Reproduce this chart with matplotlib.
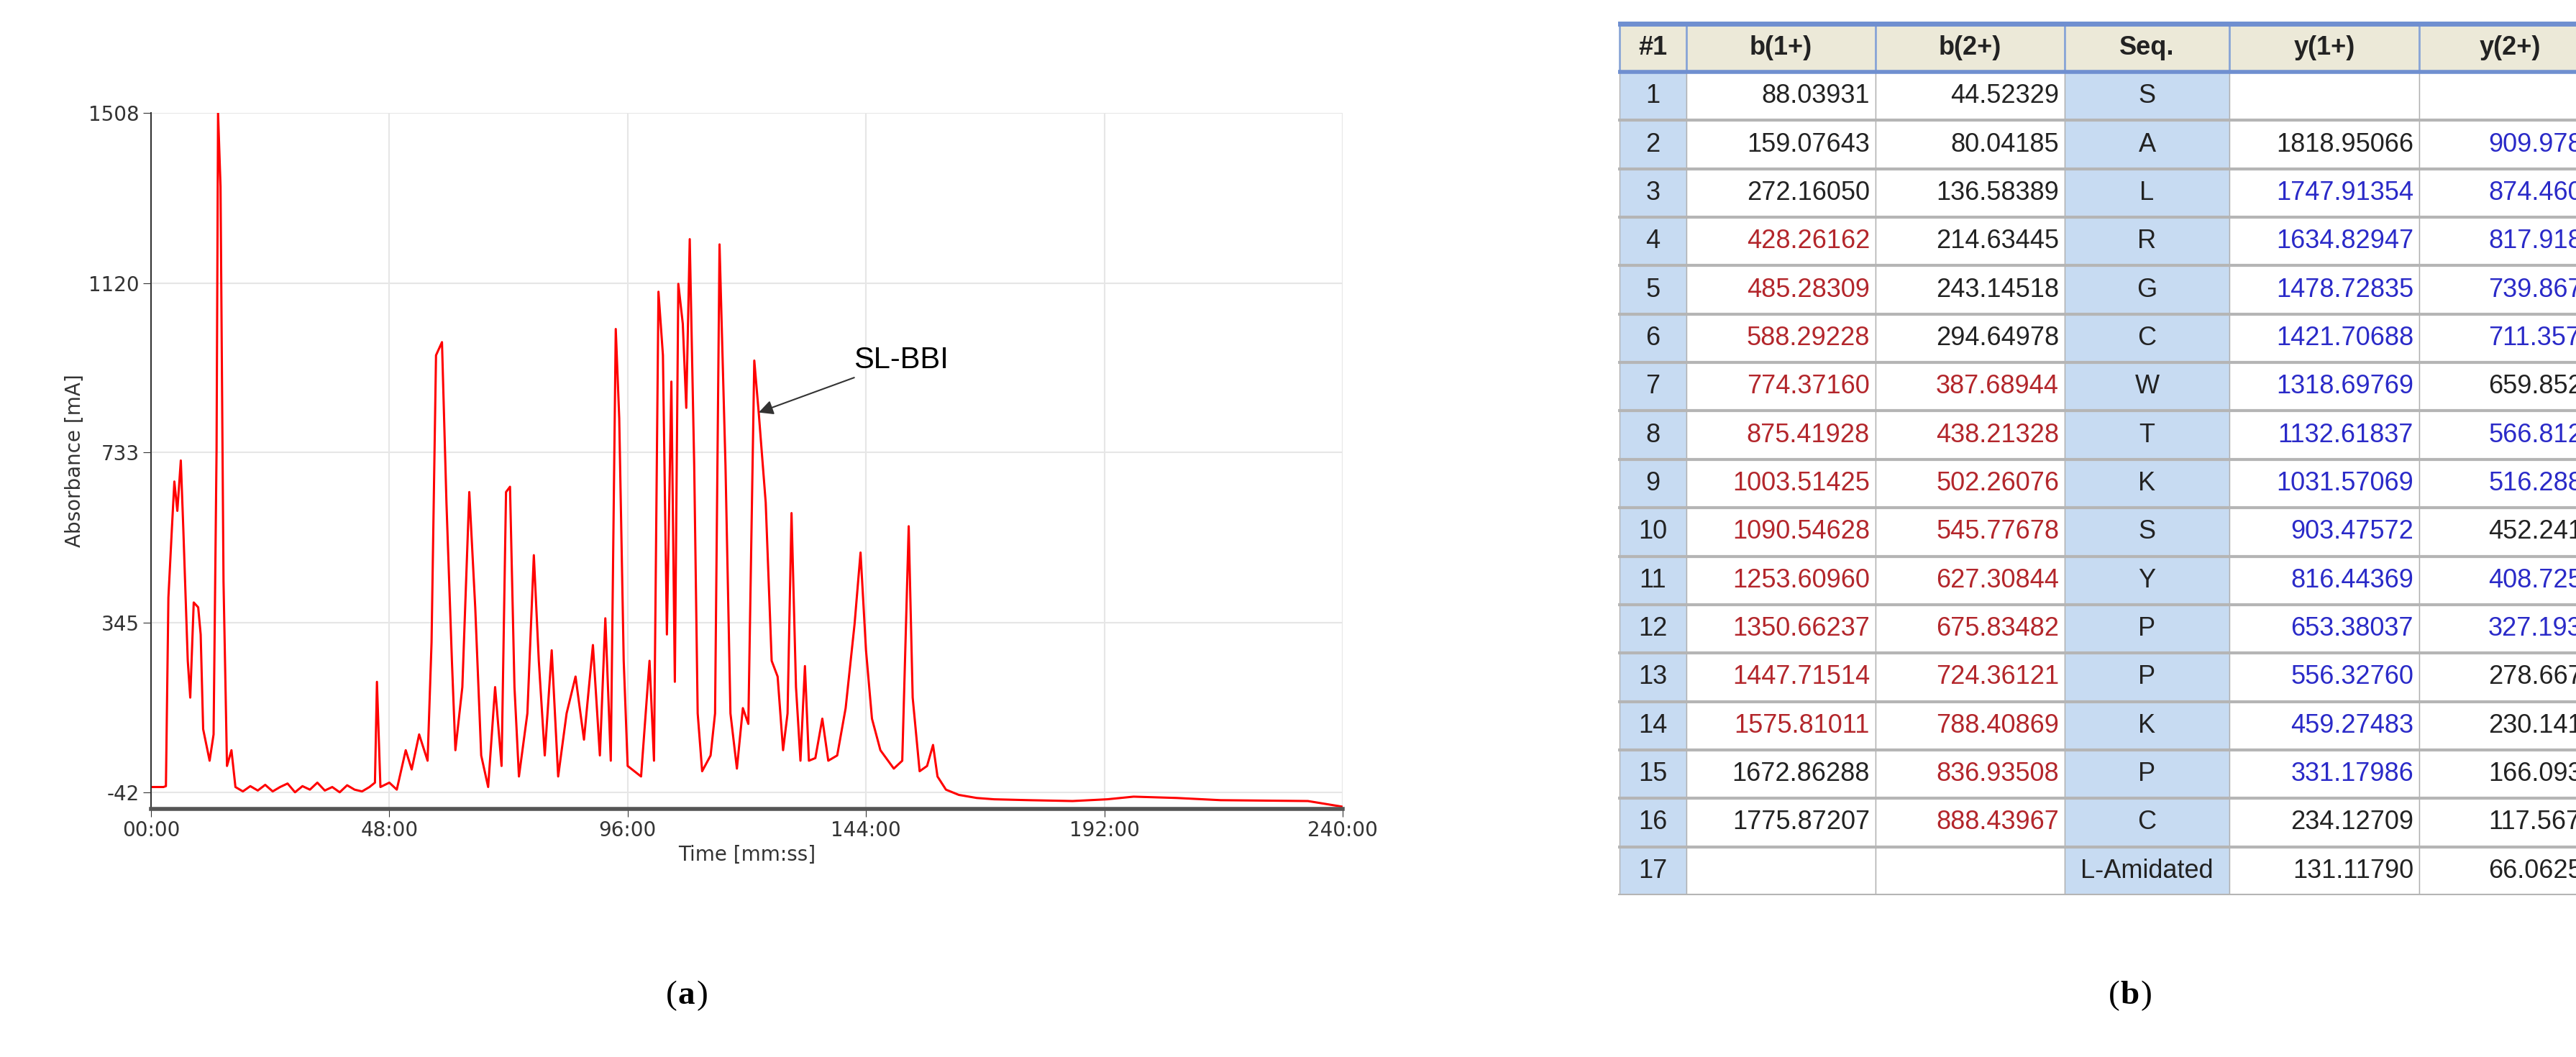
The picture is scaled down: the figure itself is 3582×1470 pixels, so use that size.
import numpy as np
import matplotlib.pyplot as plt
from matplotlib.patches import Rectangle

plt.rcParams['axes.unicode_minus'] = False

# chromatogram trace (minutes, mA)
time_min = [0, 2.5, 3.0, 3.5, 4.2, 4.7, 5.3, 6.0, 6.5, 7.4, 7.9, 8.6, 9.5, 10.0, 10.5, 11.8,
            12.6, 13.2, 13.5, 14.0, 14.6, 15.3, 16.2, 17.0, 18.5, 20, 21.5, 23, 24.5, 26, 27.5,
            29, 30.5, 32, 33.5, 35, 36.5, 38, 39.5, 41, 42.5, 44, 45.1, 45.5, 46.2, 48, 49.5,
            51.3, 52.5, 54, 55.7, 56.5, 57.4, 58.6, 59.5, 60.6, 61.3, 62.7, 64.1, 65.3, 66.5,
            67.9, 69.3, 70.6, 71.5, 72.3, 73.2, 74.1, 75.8, 77.1, 78.1, 79.3, 80.7, 82.0, 83.7,
            85.5, 87.2, 89.0, 90.4, 91.5, 92.6, 93.6, 94.3, 95.2, 96.0, 98.7, 100.4, 101.3,
            102.2, 103.1, 103.9, 104.8, 105.5, 106.2, 107.1, 107.8, 108.5, 109.4, 110.1, 111.0,
            112.7, 113.6, 114.5, 115.7, 116.7, 118.0, 119.2, 120.3, 121.5, 122.4, 123.8, 125.0,
            126.2, 127.3, 128.2, 129.0, 129.9, 130.8, 131.7, 132.5, 133.8, 135.2, 136.4, 138.2,
            139.9, 141.7, 142.9, 144.0, 145.2, 146.9, 149.6, 151.3, 152.6, 153.4, 154.8, 156.3,
            157.5, 158.4, 160.1, 162.7, 166.3, 169.8, 176.8, 185.6, 192.6, 197.9, 206.6, 215.4,
            233.0, 240]
absorb = [-30, -30, -28, 402, 559, 667, 600, 715, 560, 258, 174, 391, 380, 318, 102, 30,
          90, 739, 1508, 1340, 439, 18, 54, -30, -40, -28, -38, -25, -40, -30, -22, -42, -28,
          -36, -20, -38, -30, -42, -26, -36, -40, -30, -20, 210, -30, -20, -36,
          54, 10, 90, 30, 300, 955, 985, 619, 258, 54, 198, 643, 379, 42, -30, 198, 18, 643,
          655, 198, -6, 138, 499, 258, 42, 282, -6, 138, 222, 78, 294, 42, 355, 30, 1015, 811,
          258, 18, -6, 258, 30, 1100, 955, 318, 895, 210, 1118, 1027, 835, 1220, 703, 138, 6,
          42, 138, 1208, 703, 138, 12, 150, 114, 943, 823, 619, 258, 222, 54, 138, 595, 198,
          30, 246, 30, 36, 126, 30, 42, 150, 342, 505, 282, 126, 54, 12, 30, 565, 174, 6, 18,
          66, -6, -36, -48, -55, -58, -60, -62, -58, -52, -55, -60, -62, -75]

tick_vals = [-42, 345, 733, 1120, 1508]
tick_times = [0, 48, 96, 144, 192, 240]
tick_time_labels = ['00:00', '48:00', '96:00', '144:00', '192:00', '240:00']

# fragment table
headers = ['#1', 'b(1+)', 'b(2+)', 'Seq.', 'y(1+)', 'y(2+)']
seq = ['S', 'A', 'L', 'R', 'G', 'C', 'W', 'T', 'K', 'S', 'Y', 'P', 'P', 'K', 'P', 'C', 'L-Amidated']
b1 = ['88.03931', '159.07643', '272.16050', '428.26162', '485.28309', '588.29228', '774.37160',
      '875.41928', '1003.51425', '1090.54628', '1253.60960', '1350.66237', '1447.71514',
      '1575.81011', '1672.86288', '1775.87207', '']
b2 = ['44.52329', '80.04185', '136.58389', '214.63445', '243.14518', '294.64978', '387.68944',
      '438.21328', '502.26076', '545.77678', '627.30844', '675.83482', '724.36121', '788.40869',
      '836.93508', '888.43967', '']
y1 = ['', '1818.95066', '1747.91354', '1634.82947', '1478.72835', '1421.70688', '1318.69769',
      '1132.61837', '1031.57069', '903.47572', '816.44369', '653.38037', '556.32760', '459.27483',
      '331.17986', '234.12709', '131.11790']
y2 = ['', '909.97897', '874.46041', '817.91837', '739.86781', '711.35708', '659.85248',
      '566.81282', '516.28898', '452.24150', '408.72548', '327.19382', '278.66744', '230.14105',
      '166.09357', '117.56718', '66.06259']
b1_hit = [0, 0, 0, 1, 1, 1, 1, 1, 1, 1, 1, 1, 1, 1, 0, 0, 0]
b2_hit = [0, 0, 0, 0, 0, 0, 1, 1, 1, 1, 1, 1, 1, 1, 1, 1, 0]
y1_hit = [0, 0, 1, 1, 1, 1, 1, 1, 1, 1, 1, 1, 1, 1, 1, 0, 0]
y2_hit = [0, 1, 1, 1, 1, 1, 0, 1, 1, 0, 1, 1, 0, 0, 0, 0, 0]

W, H = 3582, 1470
fig = plt.figure(figsize=(W / 100, H / 100), dpi=100)

# ---- (a) chromatogram
ax = fig.add_axes([210 / W, 1 - 1125 / H, (1867 - 210) / W, (1125 - 157) / H])
ax.plot(time_min, absorb, color='#ff0000', lw=2.2)
ax.set_xlim(0, 240)
ax.set_ylim(-80, 1508)
ax.set_xticks(tick_times)
ax.set_xticklabels(tick_time_labels)
ax.set_yticks(tick_vals)
ax.grid(True, color='#e6e6e6', lw=1.5)
for s in ['top', 'right']:
    ax.spines[s].set_visible(False)
ax.spines['left'].set_color('#333333')
ax.spines['left'].set_linewidth(1.5)
ax.spines['bottom'].set_color('#555555')
ax.spines['bottom'].set_linewidth(4)
ax.tick_params(labelsize=20, colors='#333333', length=8)
ax.set_xlabel('Time [mm:ss]', fontsize=20, color='#333333')
ax.set_ylabel('Absorbance [mA]', fontsize=20, color='#333333')
ax.annotate('SL-BBI', xy=(122, 823), xytext=(141.5, 943), fontsize=30,
            family=['Liberation Sans Narrow', 'Liberation Sans'], va='center',
            arrowprops=dict(arrowstyle='-|>', color='#333333', lw=1.5))

fig.text(0.263, 0.05, '(', fontsize=34, ha='right', family='Liberation Serif')
fig.text(0.263, 0.05, 'a', fontsize=34, ha='left', weight='bold', family='Liberation Serif')
fig.text(0.2705, 0.05, ')', fontsize=34, ha='left', family='Liberation Serif')
fig.text(0.823, 0.05, '(', fontsize=34, ha='right', family='Liberation Serif')
fig.text(0.823, 0.05, 'b', fontsize=34, ha='left', weight='bold', family='Liberation Serif')
fig.text(0.831, 0.05, ')', fontsize=34, ha='left', family='Liberation Serif')

# ---- (b) fragment table, drawn in pixel units
tx = fig.add_axes([2250 / W, 1 - 1245 / H, (W - 2250) / W, (1245 - 30) / H])
tx.set_xlim(2250, W)
tx.set_ylim(1245, 30)
tx.axis('off')
col_edges = [2252, 2345, 2608, 2871, 3100, 3364, 3700]
head_top, head_bot = 33, 100
row_h = (1245 - head_bot) / 17
font = ['Liberation Sans Narrow', 'Liberation Sans']
red, blue, black = '#b3262b', '#2a2ac8', '#222222'

for i, h in enumerate(headers):
    x0, x1 = col_edges[i], col_edges[i + 1]
    tx.add_patch(Rectangle((x0, head_top), x1 - x0, head_bot - head_top, fc='#ece9d8',
                           ec='#8aa6d6', lw=2))
    tx.text((x0 + x1) / 2 if i < 5 else 3490, (head_top + head_bot) / 2, h,
            ha='center', va='center', fontsize=26, weight='bold', family=font, color=black)
tx.plot([2250, W], [head_top, head_top], color='#6f8fd0', lw=5)
tx.plot([2250, W], [head_bot, head_bot], color='#6f8fd0', lw=4)

cols = [b1, b2, seq, y1, y2]
hits = [b1_hit, b2_hit, None, y1_hit, y2_hit]
hit_color = [red, red, None, blue, blue]
for r in range(17):
    top = head_bot + r * row_h
    cy = top + row_h / 2
    for i in range(6):
        x0, x1 = col_edges[i], col_edges[i + 1]
        fc = '#c7dbf2' if i in (0, 3) else 'white'
        tx.add_patch(Rectangle((x0, top), x1 - x0, row_h, fc=fc, ec='#b0b0b0', lw=1))
    tx.plot([2250, W], [top + row_h, top + row_h], color='#b5b5b5', lw=3)
    tx.text((col_edges[0] + col_edges[1]) / 2, cy, str(r + 1), ha='center', va='center',
            fontsize=26, family=font, color=black)
    for j, vals in enumerate(cols):
        i = j + 1
        if i == 3:
            tx.text((col_edges[3] + col_edges[4]) / 2, cy, vals[r], ha='center', va='center',
                    fontsize=26, family=font, color=black)
            continue
        c = hit_color[j] if hits[j][r] else black
        if i == 5:
            tx.text(3460, cy, vals[r], ha='left', va='center', fontsize=26, family=font,
                    color=c, clip_on=True)
        else:
            tx.text(col_edges[i + 1] - 8, cy, vals[r], ha='right', va='center', fontsize=26,
                    family=font, color=c)

fig.savefig('out.png', dpi=100)
